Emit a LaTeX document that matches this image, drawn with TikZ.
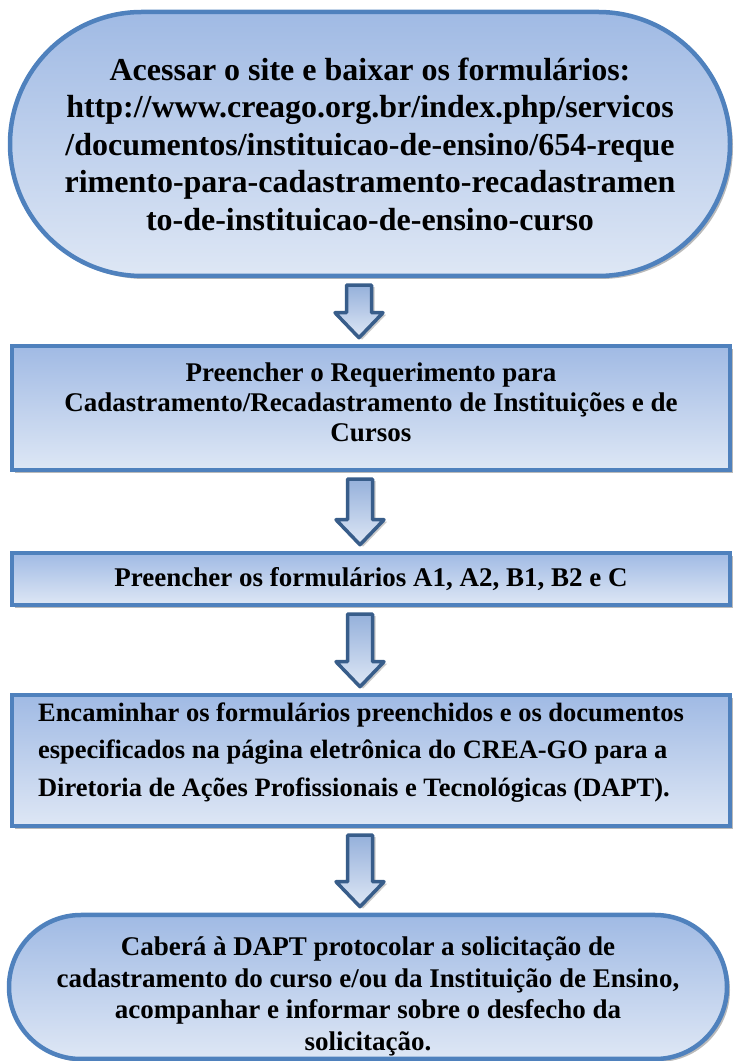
\documentclass[tikz,border=0pt]{standalone}
\usepackage{fontspec}
\setmainfont{Liberation Serif}
\usetikzlibrary{calc,shadows}

\definecolor{borda}{RGB}{79,129,189}
\definecolor{bordaseta}{RGB}{56,93,138}
\definecolor{azultopo}{RGB}{160,186,228}
\definecolor{azulbase}{RGB}{222,231,245}

\tikzset{
  caixa/.style={rectangle, draw=borda, line width=4.5pt, top color=azultopo,
    bottom color=azulbase, align=center, inner sep=0pt,
    drop shadow={shadow xshift=3pt, shadow yshift=-3pt, opacity=0.45, fill=black!60}},
  terminal/.style={caixa, rounded corners=#1},
  seta/.style={draw=bordaseta, line width=3.5pt, line join=round,
    top color=azultopo!90!bordaseta, bottom color=azulbase,
    drop shadow={shadow xshift=3pt, shadow yshift=-2pt, opacity=0.35, fill=black!60}},
  texto/.style 2 args={font=\bfseries\fontsize{#1}{#2}\selectfont}
}

% seta de bloco entre duas caixas
\newcommand{\seta}[2]{%
  \draw[seta] let \p1=($(#1.south)+(-11pt,-7pt)$), \p2=($(#2.north)+(-11pt,6pt)$) in
    (\x1-12.5pt,\y1) -- (\x1+12.5pt,\y1) -- (\x1+12.5pt,\y2+25pt) -- (\x1+24pt,\y2+25pt)
    -- (\x1,\y2) -- (\x1-24pt,\y2+25pt) -- (\x1-12.5pt,\y2+25pt) -- cycle;}

\begin{document}
\begin{tikzpicture}[x=1pt,y=1pt]
  \useasboundingbox (0,0) rectangle (736,1061);

  \node[terminal=131.9pt, minimum width=720pt, minimum height=264pt,
    texto={32}{37.5}] (acessar) at (370,917)
    {Acessar o site e baixar os formulários:\\
     http://www.creago.org.br/index.php/servicos\\
     /documentos/instituicao-de-ensino/654-reque\\
     rimento-para-cadastramento-recadastramen\\
     to-de-instituicao-de-ensino-curso};

  \node[caixa, minimum width=718pt, minimum height=124pt,
    label={[texto={27}{30}, align=center, yshift=6pt]center:%
      Preencher o Requerimento para\\
      Cadastramento/Recadastramento de Instituições e de\\
      Cursos}]
    (requerimento) at (371,653) {};

  \node[caixa, minimum width=718pt, minimum height=52pt,
    texto={27}{30}] (formularios) at (371,482)
    {Preencher os formulários A1, A2, B1, B2 e C};

  \node[caixa, minimum width=718pt, minimum height=131pt,
    label={[texto={26.5}{37.5}, align=left, xshift=-10pt, yshift=8pt]center:%
      Encaminhar os formulários preenchidos e os documentos\\
      especificados na página eletrônica do CREA-GO para a\\
      Diretoria de Ações Profissionais e Tecnológicas (DAPT).}]
    (encaminhar) at (371,300.5) {};

  \node[terminal=71.9pt, minimum width=718pt, minimum height=144pt,
    label={[texto={27}{31.7}, align=center, yshift=-9.5pt]center:%
      Caberá à DAPT protocolar a solicitação de\\
      cadastramento do curso e/ou da Instituição de Ensino,\\
      acompanhar e informar sobre o desfecho da\\
      solicitação.}]
    (cabera) at (368,74) {};

  \seta{acessar}{requerimento}
  \seta{requerimento}{formularios}
  \seta{formularios}{encaminhar}
  \seta{encaminhar}{cabera}
\end{tikzpicture}
\end{document}
